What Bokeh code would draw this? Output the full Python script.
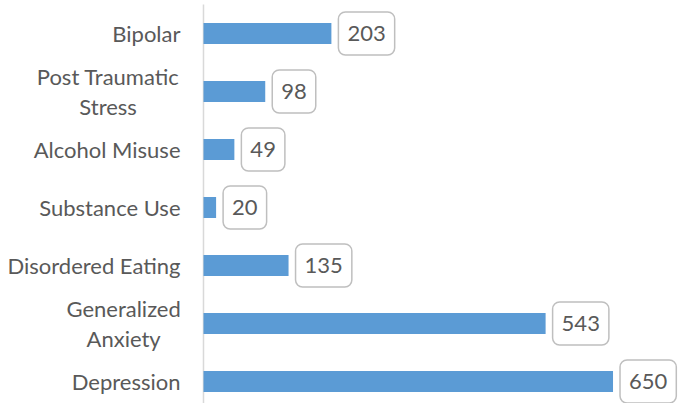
from bokeh.plotting import figure
from bokeh.models import Range1d, Label, ColumnDataSource
from bokeh.core.properties import value
from bokeh.embed import file_html
from bokeh.resources import INLINE

categories = ["Bipolar", "Post Traumatic\nStress", "Alcohol Misuse", "Substance Use",
              "Disordered Eating", "Generalized\nAnxiety", "Depression"]
counts = [203, 98, 49, 20, 135, 543, 650]

n = len(categories)
pos = [n - 1 - i for i in range(n)]

FONT = "Lato"
TXT = "#595959"
FSIZE = 22
FS = f"{FSIZE}px"
LABEL_GAP = 23          # px between category label block and axis
CHAR_W = 0.47 * FSIZE   # approximate average glyph width, for centring wrapped lines

p = figure(width=680, height=403, output_backend="svg", toolbar_location=None,
           x_range=Range1d(-322.2, 757.1), y_range=Range1d(-0.379, 6.569),
           x_axis_location=None, y_axis_location=None, min_border=0)
p.outline_line_color = None
p.xgrid.visible = False
p.ygrid.visible = False

src = ColumnDataSource(dict(y=pos, v=counts))

# axis line
p.segment(x0=0, x1=0, y0=-0.4, y1=6.5, line_color="#D9D9D9", line_width=1.5)

p.hbar(y="y", left=0, right="v", height=0.362, source=src,
       fill_color="#5B9BD5", line_color=None)

# category labels: block right-aligned to the axis, wrapped lines centred within block
single = dict(y=[], t=[])
multi = dict(y=[], t=[], off=[])
for cat, y in zip(categories, pos):
    if "\n" in cat:
        w = max(len(s) for s in cat.split("\n")) * CHAR_W
        multi["y"].append(y)
        multi["t"].append(cat)
        multi["off"].append(-LABEL_GAP - w / 2)
    else:
        single["y"].append(y)
        single["t"].append(cat)

p.text(x=0, y="y", text="t", source=ColumnDataSource(single), x_offset=-LABEL_GAP,
       text_align="right", text_baseline="middle",
       text_font=value(FONT), text_font_size=FS, text_color=TXT)
p.text(x=0, y="y", text="t", source=ColumnDataSource(multi), x_offset="off",
       text_align="center", text_baseline="middle",
       text_font=value(FONT), text_font_size=FS, text_color=TXT,
       text_line_height=1.14)

for v, y in zip(counts, pos):
    p.add_layout(Label(x=v, y=y, x_offset=7, text=str(v),
                       text_align="left", text_baseline="middle",
                       text_font=FONT, text_font_size=FS, text_color=TXT,
                       border_line_color="#BFBFBF", border_line_width=1.5,
                       background_fill_color="white",
                       padding=dict(left=9, right=9, top=14, bottom=14),
                       border_radius=7))

open("out.html", "w").write(file_html(p, INLINE))
